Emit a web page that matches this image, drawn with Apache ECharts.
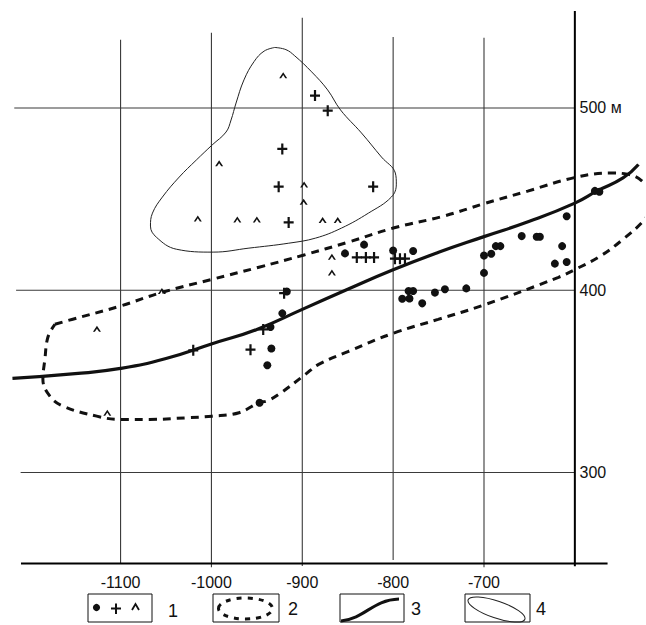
<!DOCTYPE html>
<html>
<head>
<meta charset="utf-8">
<script src="https://cdn.jsdelivr.net/npm/echarts@6/dist/echarts.min.js"></script>
<style>
html,body{margin:0;padding:0;background:#fff;}
#chart{width:646px;height:625px;}
</style>
</head>
<body>
<div id="chart"></div>
<script>
// ---------- DATA ----------
const xTicks = [-1100, -1000, -900, -800, -700, -600];
const xTickLabels = ['-1100', '-1000', '-900', '-800', '-700', ''];
const yTicks = [300, 400, 500];
const yTickLabels = ['300', '400', '500 м'];

// symbol "●"
const dots = [
  [-853, 420.2], [-832, 425], [-800, 421.8], [-778, 421.5],
  [-783, 399.6], [-778, 399.6], [-790, 395.3], [-782, 395.5], [-768, 392.8],
  [-754, 398.7], [-743, 400.5], [-719.5, 401],
  [-700, 409.5], [-700, 419], [-692, 420], [-687, 424.2], [-682, 424.2],
  [-658.5, 429.7], [-642, 429.3], [-638.5, 429.3], [-609, 440.6], [-614, 424.2],
  [-622, 414.6], [-609, 415.5], [-578, 454.5], [-573, 454],
  [-917, 399.3], [-922, 387.3], [-935, 379.8], [-934, 368], [-938.5, 358.8], [-947, 338.3]
];
// symbol "+"
const pluses = [
  [-886, 506.8], [-872, 498.5], [-922, 477.5], [-926, 456.8], [-822, 456.8], [-915, 437.2],
  [-840, 418], [-830, 418], [-821, 418], [-798, 417.3], [-792.5, 417.3], [-787, 417.3],
  [-920, 398.4], [-943, 378.5], [-957, 367.4], [-1020, 367]
];
// symbol "^"
const carets = [
  [-921, 518], [-991.5, 469.6], [-898, 458], [-898.5, 448.5], [-1015, 439.4],
  [-971.5, 438.8], [-950, 438.8], [-877.6, 438.5], [-861, 438.5],
  [-867.4, 418.4], [-867.4, 409.7], [-1054.5, 399.6], [-1126, 378.8], [-1114.6, 332.8]
];
// line 3 (trend)
const trendLine = [
  [-1219, 351.6], [-1150, 354.2], [-1100, 357.1], [-1050, 362.5], [-1000, 370.5],
  [-950, 378.5], [-900, 389.5], [-850, 400.5], [-800, 411.2], [-750, 420.8],
  [-700, 429.4], [-650, 437.8], [-600, 447.8], [-575, 454.6], [-547, 461.6], [-530, 469]
];
// outline 2 (dashed zone)
const zoneOutline = [
  [-1172.3, 381.3], [-1152.6, 384.1], [-1101, 391.2], [-1054, 398.9], [-999.2, 406],
  [-947.7, 412.6], [-899, 419.2], [-849.1, 426.4], [-799.8, 434.1], [-744, 440.7],
  [-701.2, 447.3], [-651.9, 454.4], [-599.3, 461.9], [-561, 464.3], [-542.4, 463.7],
  [-526, 459.9], [-515, 451], [-518, 443.4], [-524.8, 437.9], [-546.8, 428],
  [-572, 418.7], [-599.3, 411.5], [-618, 407.1], [-700.6, 391.8], [-750.5, 384],
  [-799.8, 376.4], [-849, 366.5], [-882, 359.3], [-896.6, 353.8], [-925.8, 342.9],
  [-939, 339.2], [-947.7, 338.3], [-969.6, 332.8], [-999.2, 330.9], [-1027.7, 330],
  [-1068.2, 329.1], [-1101, 329.1], [-1126.3, 330.9], [-1163.5, 336.4], [-1177.8, 341.9],
  [-1185.5, 351.1], [-1183.3, 362.1], [-1180, 374.2], [-1172.3, 381.3]
];
// outline 4 (thin contour)
const clusterOutline = [
  [-930.2, 533.2], [-918, 532], [-908.3, 528.6], [-889.7, 519.8], [-872.1, 509.9], [-857.9, 498.9],
  [-834.9, 486.3], [-812.9, 473.1], [-797.6, 464.3], [-796.5, 458.2], [-802, 451.1],
  [-827.2, 442.3], [-856.8, 434.1], [-885.3, 428.6], [-914.9, 425.8], [-958.7, 423.1],
  [-998.1, 420.9], [-1038.6, 422.5], [-1060.6, 429.1], [-1067.1, 435.2], [-1064.9, 442.3],
  [-1054, 451.1], [-1035.4, 462.1], [-1016.7, 471.4], [-999.2, 479.7], [-983.9, 486.8],
  [-978.4, 493.4], [-972.9, 502.7], [-964.2, 515.4], [-953, 525.5], [-942, 531.2], [-930.2, 533.2]
];
const legendLabels = ['1', '2', '3', '4'];

// ---------- STYLE / LAYOUT ----------
const FONT = "'Liberation Sans', Arial, sans-serif";
const INK = '#111';
const FRAME = {
  hStart: { 500: -1217, 400: -1215, 300: -1210 },
  vTop: { '-1100': 537.4, '-1000': 541.2, '-900': 549.5, '-800': 539, '-700': 538.5, '-600': 553.2 },
  vBottom: { '-1100': 250, '-1000': 248, '-900': 248.7, '-800': 252, '-700': 248, '-600': 248.6 },
  axisFrom: -1209.6, axisTo: -564, axisY: 250
};

// build frame segments from the tick arrays: [x1, y1, x2, y2, kind]
const frameSegments = [];
yTicks.forEach(v => frameSegments.push([FRAME.hStart[v], v, -600, v, 0]));
xTicks.forEach(v => frameSegments.push([v, FRAME.vBottom[String(v)], v, FRAME.vTop[String(v)], v === -600 ? 1 : 0]));
frameSegments.push([FRAME.axisFrom, FRAME.axisY, FRAME.axisTo, FRAME.axisY, 1]);

const PLUS = 'path://M3.9,0 H6.1 V4.4 H10 V6.6 H6.1 V11 H3.9 V6.6 H0 V4.4 H3.9 Z';
const CARET = 'path://M0,7 L4,0 L8,7 L6.1,7 L4,3.3 L1.9,7 Z';

const chart = echarts.init(document.getElementById('chart'), null, { renderer: 'svg' });

const option = {
  animation: false,
  backgroundColor: '#fff',
  grid: { left: 7, right: 0, top: 11, bottom: 61.4, containLabel: false },
  xAxis: {
    type: 'value', min: -1225, max: -525, interval: 25,
    axisLine: { show: false }, axisTick: { show: false }, splitLine: { show: false },
    axisLabel: {
      margin: 11, fontSize: 16, color: INK, fontFamily: FONT,
      formatter: v => { const i = xTicks.indexOf(Math.round(v)); return i >= 0 ? xTickLabels[i] : ''; }
    }
  },
  yAxis: {
    type: 'value', position: 'right', offset: -68.5, min: 250, max: 553.2, interval: 50,
    axisLine: { show: false }, axisTick: { show: false }, splitLine: { show: false },
    axisLabel: {
      margin: 5, fontSize: 16, color: INK, fontFamily: FONT, align: 'left',
      formatter: v => { const i = yTicks.indexOf(Math.round(v)); return i >= 0 ? yTickLabels[i] : ''; }
    }
  },
  series: [
    {
      type: 'custom', name: 'frame', data: frameSegments, silent: true, clip: false, z: 1,
      dimensions: ['x1', 'y1', 'x2', 'y2', 'k'],
      encode: { x: [0, 2], y: [1, 3] },
      renderItem: (params, api) => {
        const p1 = api.coord([api.value(0), api.value(1)]);
        const p2 = api.coord([api.value(2), api.value(3)]);
        const k = api.value(4);
        return {
          type: 'line',
          shape: { x1: p1[0], y1: p1[1], x2: p2[0], y2: p2[1] },
          style: { stroke: k ? '#000' : '#3a3a3a', lineWidth: k ? 2 : 1.1 }
        };
      }
    },
    {
      type: 'line', name: 'outline4', data: clusterOutline, smooth: 0.4, showSymbol: false, z: 2,
      lineStyle: { color: '#222', width: 1 }, clip: false
    },
    {
      type: 'line', name: 'zone2', data: zoneOutline, smooth: 0.4, showSymbol: false, z: 2,
      lineStyle: { color: INK, width: 3, type: [8, 6] }, clip: false
    },
    {
      type: 'line', name: 'trend3', data: trendLine, smooth: 0.5, showSymbol: false, z: 3,
      lineStyle: { color: INK, width: 3.2 }, clip: false
    },
    {
      type: 'scatter', name: 'dots', data: dots, symbol: 'circle', symbolSize: 8, z: 5,
      itemStyle: { color: INK, opacity: 1 }
    },
    {
      type: 'scatter', name: 'plus', data: pluses, symbol: PLUS, symbolSize: [10, 11], z: 5,
      itemStyle: { color: INK, opacity: 1 }
    },
    {
      type: 'scatter', name: 'caret', data: carets, symbol: CARET, symbolSize: [8, 6], z: 5,
      itemStyle: { color: INK, opacity: 1 }
    }
  ],
  graphic: [
    // legend box 1
    { type: 'rect', shape: { x: 88, y: 594, width: 64, height: 28 }, style: { fill: 'none', stroke: INK, lineWidth: 1 } },
    { type: 'circle', shape: { cx: 96.5, cy: 607.5, r: 3.6 }, style: { fill: INK } },
    { type: 'line', shape: { x1: 111, y1: 608.5, x2: 121, y2: 608.5 }, style: { stroke: INK, lineWidth: 2 } },
    { type: 'line', shape: { x1: 116, y1: 603.5, x2: 116, y2: 614 }, style: { stroke: INK, lineWidth: 2 } },
    { type: 'polyline', shape: { points: [[132, 610], [135.5, 604], [139, 610]] }, style: { fill: 'none', stroke: INK, lineWidth: 1.8 } },
    { type: 'text', x: 173, y: 611, style: { text: legendLabels[0], font: '18px ' + FONT, fill: INK, align: 'center', verticalAlign: 'middle' } },
    // legend box 2
    { type: 'rect', shape: { x: 213, y: 594, width: 66, height: 28 }, style: { fill: 'none', stroke: INK, lineWidth: 1 } },
    { type: 'ellipse', shape: { cx: 245.5, cy: 608.5, rx: 27, ry: 10.5 }, style: { fill: 'none', stroke: INK, lineWidth: 3, lineDash: [5, 6] } },
    { type: 'text', x: 293, y: 609, style: { text: legendLabels[1], font: '18px ' + FONT, fill: INK, align: 'center', verticalAlign: 'middle' } },
    // legend box 3
    { type: 'rect', shape: { x: 340, y: 594, width: 64, height: 28 }, style: { fill: 'none', stroke: INK, lineWidth: 1 } },
    { type: 'bezierCurve', shape: { x1: 341, y1: 621, cpx1: 366, cpy1: 618, cpx2: 372, cpy2: 600, x2: 399, y2: 599 }, style: { fill: 'none', stroke: INK, lineWidth: 3 } },
    { type: 'text', x: 416, y: 609, style: { text: legendLabels[2], font: '18px ' + FONT, fill: INK, align: 'center', verticalAlign: 'middle' } },
    // legend box 4
    { type: 'rect', shape: { x: 465, y: 594, width: 65, height: 28 }, style: { fill: 'none', stroke: INK, lineWidth: 1 } },
    { type: 'ellipse', x: 496.5, y: 609.5, rotation: -0.33, shape: { cx: 0, cy: 0, rx: 30, ry: 8.5 }, style: { fill: 'none', stroke: '#222', lineWidth: 1 } },
    { type: 'text', x: 541, y: 609, style: { text: legendLabels[3], font: '18px ' + FONT, fill: INK, align: 'center', verticalAlign: 'middle' } }
  ]
};
chart.setOption(option);
</script>
</body>
</html>
